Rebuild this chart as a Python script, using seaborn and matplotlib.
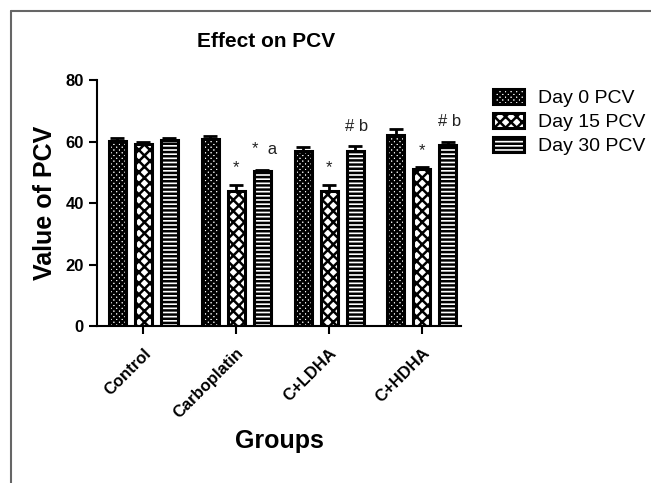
import matplotlib
matplotlib.use("Agg")
import matplotlib.pyplot as plt
from matplotlib.lines import Line2D
import seaborn as sns
import pandas as pd
import numpy as np

groups = ["Control", "Carboplatin", "C+LDHA", "C+HDHA"]
series = ["Day 0 PCV", "Day 15 PCV", "Day 30 PCV"]
day0 = [60.2, 61.0, 56.8, 62.0]
day15 = [59.2, 44.0, 44.0, 51.0]
day30 = [60.5, 50.3, 57.0, 59.0]
err0 = [1.0, 0.8, 1.5, 2.0]
err15 = [0.8, 2.0, 2.0, 0.7]
err30 = [0.7, 0.6, 1.5, 1.0]
marks15 = ["", "*", "*", "*"]
marks30 = ["", "*  a", "# b", "# b"]

hatches = ["xxxxxx", "xxx", "----"]

rows = []
for g, a, b, c in zip(groups, day0, day15, day30):
    rows.append((g, series[0], a))
    rows.append((g, series[1], b))
    rows.append((g, series[2], c))
df = pd.DataFrame(rows, columns=["group", "day", "value"])

sns.set_style("ticks")
plt.rcParams["font.family"] = ["Liberation Sans", "DejaVu Sans"]
plt.rcParams["hatch.linewidth"] = 1.8
plt.rcParams["text.color"] = "black"
plt.rcParams["axes.labelcolor"] = "black"
plt.rcParams["xtick.color"] = "black"
plt.rcParams["ytick.color"] = "black"

fig = plt.figure(figsize=(6.51, 4.83), dpi=100)
ax = fig.add_axes([0.149, 0.325, 0.559, 0.509])

sns.barplot(data=df, x="group", y="value", hue="day", ax=ax, width=0.84, gap=0.35,
            palette=["white"] * 3, edgecolor="black", linewidth=2.2,
            errorbar=None, legend=True)

errs = [err0, err15, err30]
bar_conts = list(ax.containers)
for i, cont in enumerate(bar_conts):
    for j, bar in enumerate(cont):
        bar.set_hatch(hatches[i])
        x = bar.get_x() + bar.get_width() / 2
        h = bar.get_height()
        ax.errorbar(x, h, yerr=[[0], [errs[i][j]]], color="black", capsize=5,
                    capthick=2, elinewidth=2, zorder=1)
        if i == 1 and marks15[j]:
            ax.text(x, h + errs[i][j] + 3, marks15[j], ha="center", va="bottom",
                    fontsize=12, color="#222222")
        if i == 2 and marks30[j]:
            ax.text(x + 0.02, h + errs[i][j] + 4, marks30[j], ha="center", va="bottom",
                    fontsize=12, color="#222222")

ax.set_ylim(0, 80)
ax.set_xlim(-0.5, 3.42)
ax.set_yticks([0, 20, 40, 60, 80])
ax.set_yticklabels(["0", "20", "40", "60", "80"], fontsize=12, fontweight="bold")
ax.set_xticks(range(len(groups)))
ax.set_xticklabels(groups, rotation=45, ha="right", rotation_mode="anchor",
                   fontsize=12, fontweight="bold")
ax.tick_params(axis="both", width=1.5, length=6)
ax.tick_params(axis="x", pad=8)
for s in ["left", "bottom"]:
    ax.spines[s].set_linewidth(1.5)
    ax.spines[s].set_color("black")
sns.despine(ax=ax)

ax.set_xlabel("Groups", fontsize=18, fontweight="bold", labelpad=6)
ax.set_ylabel("Value of PCV", fontsize=18, fontweight="bold", labelpad=6)
ax.set_title("Effect on PCV", fontsize=15, fontweight="bold", pad=24, x=0.465)

handles, labels = ax.get_legend_handles_labels()
for hnd, hat in zip(handles, hatches):
    hnd.set_hatch(hat)
ax.legend(handles, labels, loc="upper left", bbox_to_anchor=(1.04, 1.035), frameon=False,
          fontsize=14, handlelength=1.6, handleheight=0.8, labelspacing=0.3,
          handletextpad=0.7)

fig.add_artist(Line2D([11 / 651, 11 / 651], [0, 1 - 11 / 483], transform=fig.transFigure,
                      color="#666666", linewidth=1.5))
fig.add_artist(Line2D([11 / 651, 1], [1 - 11 / 483, 1 - 11 / 483], transform=fig.transFigure,
                      color="#666666", linewidth=1.5))

fig.savefig("out.png", dpi=100)
